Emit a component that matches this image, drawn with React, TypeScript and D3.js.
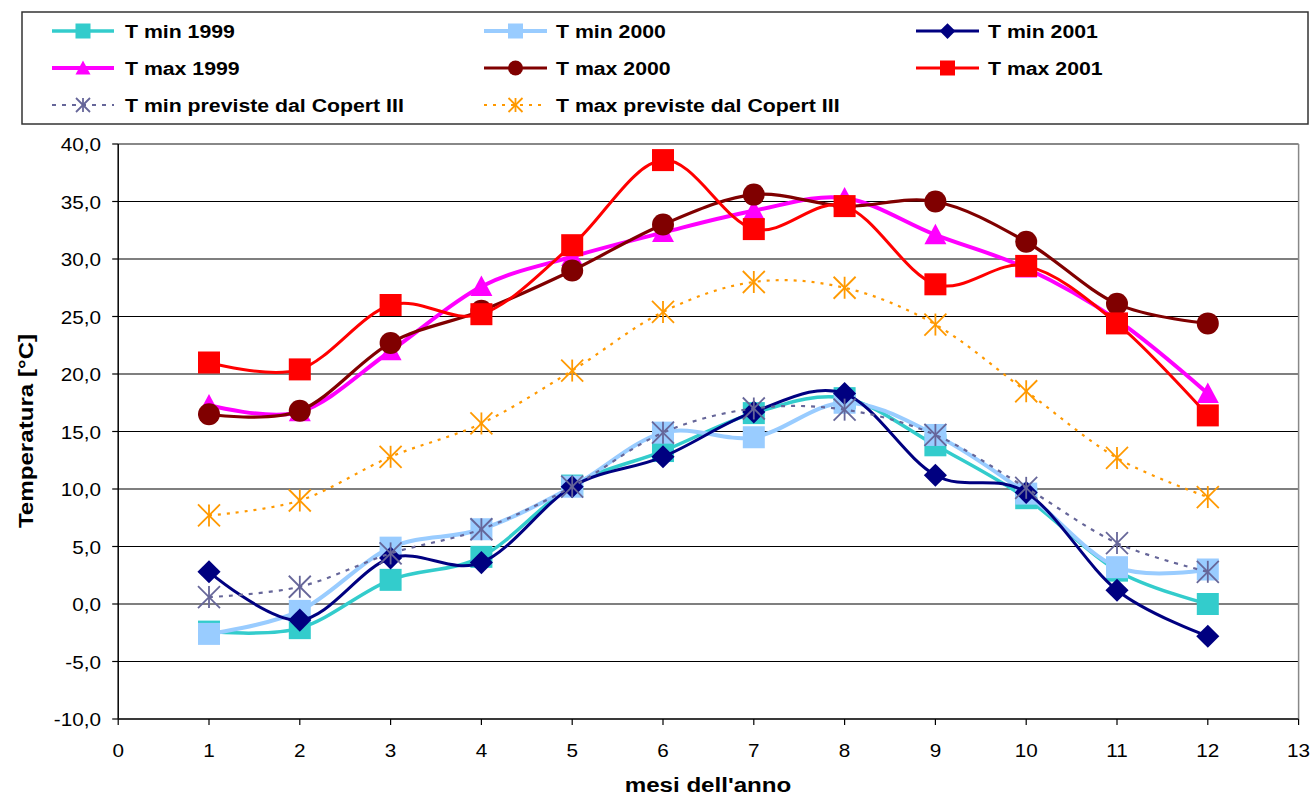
import React from "react";
import * as d3 from "d3";

const months = [1, 2, 3, 4, 5, 6, 7, 8, 9, 10, 11, 12];
const xTicks = [0, 1, 2, 3, 4, 5, 6, 7, 8, 9, 10, 11, 12, 13];
const yTicks = [-10, -5, 0, 5, 10, 15, 20, 25, 30, 35, 40];

const tMin1999 = [-2.4, -2.1, 2.1, 4.1, 10.3, 13.3, 16.6, 17.9, 13.8, 9.2, 2.9, 0.0];
const tMin2000 = [-2.6, -0.6, 4.9, 6.5, 10.2, 14.9, 14.5, 17.5, 14.7, 9.6, 3.2, 3.0];
const tMin2001 = [2.8, -1.4, 4.0, 3.6, 10.2, 12.8, 16.7, 18.3, 11.2, 9.7, 1.2, -2.8];
const tMax1999 = [17.3, 16.7, 22.0, 27.6, 30.2, 32.3, 34.2, 35.3, 32.1, 29.2, 24.7, 18.3];
const tMax2000 = [16.5, 16.8, 22.7, 25.5, 29.0, 33.0, 35.6, 34.6, 35.0, 31.5, 26.1, 24.4];
const tMax2001 = [21.0, 20.4, 26.0, 25.2, 31.2, 38.6, 32.6, 34.6, 27.8, 29.4, 24.4, 16.4];
const copertMin = [0.6, 1.5, 4.4, 6.5, 10.2, 14.9, 17.0, 16.9, 14.7, 10.1, 5.3, 2.8];
const copertMax = [7.7, 9.0, 12.8, 15.7, 20.3, 25.4, 28.0, 27.5, 24.3, 18.5, 12.7, 9.3];

type Marker = "square" | "diamond" | "triangle" | "circle" | "asterisk";

interface Series {
  name: string;
  values: number[];
  color: string;
  width: number;
  dash?: string;
  marker: Marker;
}

const series: Series[] = [
  { name: "T min 1999", values: tMin1999, color: "#33CCCC", width: 3.5, marker: "square" },
  { name: "T min 2000", values: tMin2000, color: "#99CCFF", width: 4, marker: "square" },
  { name: "T min 2001", values: tMin2001, color: "#000080", width: 3, marker: "diamond" },
  { name: "T max 1999", values: tMax1999, color: "#FF00FF", width: 4, marker: "triangle" },
  { name: "T max 2000", values: tMax2000, color: "#800000", width: 3.2, marker: "circle" },
  { name: "T max 2001", values: tMax2001, color: "#FF0000", width: 3, marker: "square" },
  { name: "T min previste dal Copert III", values: copertMin, color: "#666699", width: 2.2, dash: "4,6", marker: "asterisk" },
  { name: "T max previste dal Copert III", values: copertMax, color: "#FF9900", width: 2.2, dash: "3,6", marker: "asterisk" },
];

const FONT = "'Liberation Sans', Arial, sans-serif";
const SX = 1.15;

function SText(props: {
  x: number; y: number; anchor?: string; size: number; bold?: boolean; rotate?: number; children: React.ReactNode;
}) {
  const { x, y, anchor = "start", size, bold, rotate = 0, children } = props;
  return (
    <text
      transform={`translate(${x},${y}) rotate(${rotate}) scale(${SX},1)`}
      textAnchor={anchor}
      fontSize={size}
      fontWeight={bold ? "bold" : "normal"}
      fontFamily={FONT}
      fill="#000"
    >
      {children}
    </text>
  );
}

function MarkerShape({ type, cx, cy, s, color }: { type: Marker; cx: number; cy: number; s: number; color: string }) {
  const h = s / 2;
  switch (type) {
    case "square":
      return <rect x={cx - h} y={cy - h} width={s} height={s} fill={color} />;
    case "diamond":
      return (
        <path
          d={`M${cx},${cy - h * 1.05}L${cx + h * 1.05},${cy}L${cx},${cy + h * 1.05}L${cx - h * 1.05},${cy}Z`}
          fill={color}
        />
      );
    case "triangle":
      return <path d={`M${cx},${cy - h}L${cx + h},${cy + h * 0.85}L${cx - h},${cy + h * 0.85}Z`} fill={color} />;
    case "circle":
      return <circle cx={cx} cy={cy} r={h} fill={color} />;
    case "asterisk":
      return (
        <g stroke={color} strokeWidth={1.8}>
          <line x1={cx} y1={cy - h} x2={cx} y2={cy + h} />
          <line x1={cx - h} y1={cy - h} x2={cx + h} y2={cy + h} />
          <line x1={cx - h} y1={cy + h} x2={cx + h} y2={cy - h} />
        </g>
      );
  }
  return null;
}

export default function App() {
  const W = 1310;
  const H = 798;
  const x = d3.scaleLinear().domain([0, 13]).range([118.2, 1298.6]);
  const y = d3.scaleLinear().domain([-10, 40]).range([719, 144]);
  const fmt = (v: number) => v.toFixed(1).replace(".", ",");

  const line = d3
    .line<number>()
    .x((_, i) => x(months[i]))
    .y((v) => y(v))
    .curve(d3.curveCardinal.tension(0));

  const legendCols = [
    { x1: 52, x2: 114, tx: 125 },
    { x1: 484, x2: 547, tx: 556 },
    { x1: 916, x2: 979, tx: 988 },
  ];
  const legendRows = [31, 68, 105];

  return (
    <svg
      width={W}
      height={H}
      style={{ position: "fixed", left: 0, top: 0, background: "#fff" }}
    >
      <rect x={0} y={0} width={W} height={H} fill="#fff" />

      {/* Legend */}
      <rect x={22} y={12} width={1286} height={112} fill="#fff" stroke="#333" strokeWidth={1.5} />
      {series.map((s, i) => {
        const col = legendCols[i % 3];
        const ry = legendRows[Math.floor(i / 3)];
        const mx = (col.x1 + col.x2) / 2;
        return (
          <g key={s.name}>
            <line
              x1={col.x1}
              x2={col.x2}
              y1={ry}
              y2={ry}
              stroke={s.color}
              strokeWidth={s.width}
              strokeDasharray={s.dash}
            />
            <MarkerShape type={s.marker} cx={mx} cy={ry} s={s.marker === "asterisk" ? 14 : 15} color={s.color} />
            <SText x={col.tx} y={ry + 7} size={18.5} bold>
              {s.name}
            </SText>
          </g>
        );
      })}

      {/* Grid */}
      {yTicks.map((t) => (
        <line
          key={"g" + t}
          x1={x(0)}
          x2={x(13)}
          y1={y(t)}
          y2={y(t)}
          stroke={t === 40 ? "#888" : "#000"}
          strokeWidth={t === 40 ? 2 : 1.2}
        />
      ))}
      <line x1={x(13)} x2={x(13)} y1={y(40)} y2={y(-10)} stroke="#888" strokeWidth={1.5} />

      {/* Axes */}
      <line x1={x(0)} x2={x(0)} y1={y(40)} y2={y(-10)} stroke="#000" strokeWidth={1.5} />
      <line x1={x(0)} x2={x(13)} y1={y(-10)} y2={y(-10)} stroke="#222" strokeWidth={1.5} />
      {yTicks.map((t) => (
        <g key={"yt" + t}>
          <line x1={x(0) - 6} x2={x(0)} y1={y(t)} y2={y(t)} stroke="#000" strokeWidth={1.2} />
          <SText x={101} y={y(t) + 7} anchor="end" size={18}>
            {fmt(t)}
          </SText>
        </g>
      ))}
      {xTicks.map((t) => (
        <g key={"xt" + t}>
          <line x1={x(t)} x2={x(t)} y1={y(-10)} y2={y(-10) + 6} stroke="#000" strokeWidth={1.2} />
          <SText x={x(t)} y={757} anchor="middle" size={18}>
            {String(t)}
          </SText>
        </g>
      ))}

      {/* Series */}
      {series.map((s) => (
        <g key={"s" + s.name}>
          <path
            d={line(s.values) || ""}
            fill="none"
            stroke={s.color}
            strokeWidth={s.width}
            strokeDasharray={s.dash}
          />
          {s.values.map((v, i) => (
            <MarkerShape
              key={i}
              type={s.marker}
              cx={x(months[i])}
              cy={y(v)}
              s={22}
              color={s.color}
            />
          ))}
        </g>
      ))}

      {/* Titles */}
      <SText x={33} y={431} anchor="middle" size={21} bold rotate={-90}>
        Temperatura [°C]
      </SText>
      <SText x={708} y={792} anchor="middle" size={21} bold>
        mesi dell'anno
      </SText>
    </svg>
  );
}
